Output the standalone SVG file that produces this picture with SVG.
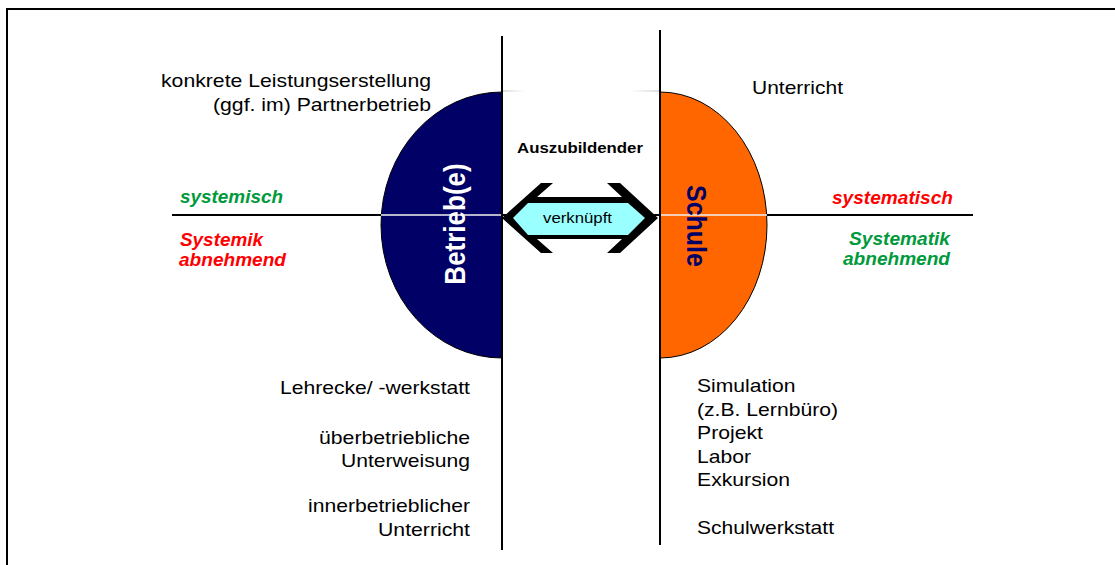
<svg xmlns="http://www.w3.org/2000/svg" width="1115" height="565" viewBox="0 0 1115 565">
<style>
text{font-family:"Liberation Sans",Arial,sans-serif;}
.t{font-size:19px;fill:#000;}
.bi{font-size:17.5px;font-weight:bold;font-style:italic;}
.g{fill:#009A3C;}
.r{fill:#FF0000;}
.line{stroke:#000;stroke-width:2;fill:none;}
</style>
<defs>
<linearGradient id="fadeR" x1="0" y1="0" x2="1" y2="0"><stop offset="0" stop-color="#bbb"/><stop offset="1" stop-color="#fff"/></linearGradient>
<linearGradient id="fadeL" x1="0" y1="0" x2="1" y2="0"><stop offset="0" stop-color="#fff"/><stop offset="1" stop-color="#bbb"/></linearGradient>
</defs>
<rect width="1115" height="565" fill="#fff"/>
<path d="M7,565 V9 H1115" class="line"/>

<g id="connectors">
<line x1="172" y1="215" x2="973" y2="215" class="line"/>
</g>

<g id="node-betrieb">
<path d="M502,92 A121,133 0 0 0 502,358 Z" fill="#000066" stroke="#000" stroke-width="1"/>
<line x1="381" y1="215" x2="502" y2="215" stroke="#f2f2f2" stroke-width="1.6"/>
<text transform="translate(465,224) scale(1.14,1) rotate(-90)" text-anchor="middle" font-size="26" font-weight="bold" fill="#fff">Betrieb(e)</text>
</g>

<g id="node-schule">
<path d="M660,92 A107,133 0 0 1 660,358 Z" fill="#FF6600" stroke="#000" stroke-width="1"/>
<line x1="660" y1="215" x2="767" y2="215" stroke="#f2f2f2" stroke-width="1.6"/>
<text transform="translate(687,226) scale(1.14,1) rotate(90)" text-anchor="middle" font-size="25" font-weight="bold" fill="#000066">Schule</text>
</g>

<g id="dividers">
<rect x="503" y="90.5" width="22" height="1" fill="url(#fadeR)"/>
<rect x="630" y="90.5" width="29" height="1" fill="url(#fadeL)"/>
<line x1="502" y1="36" x2="502" y2="550" class="line"/>
<line x1="660" y1="30" x2="660" y2="545" class="line"/>
</g>

<g id="node-verknuepft">
<polygon points="502,218 541,183 553,183 537,197 622,197 607,183 620,183 658,218 620,253 607,253 622,239 537,239 553,253 541,253" fill="#000"/>
<polygon points="513,218 528,203 628,203 645,218 628,235 528,235" fill="#99FFFF"/>
<text x="543" y="223" font-size="15.5" textLength="69" lengthAdjust="spacingAndGlyphs">verknüpft</text>
</g>

<g id="node-auszubildender">
<text x="517" y="153" font-size="15.5" font-weight="bold" textLength="126" lengthAdjust="spacingAndGlyphs">Auszubildender</text>
</g>

<g id="labels-top">
<text class="t" x="161" y="87" textLength="270" lengthAdjust="spacingAndGlyphs">konkrete Leistungserstellung</text>
<text class="t" x="213" y="111" textLength="218" lengthAdjust="spacingAndGlyphs">(ggf. im) Partnerbetrieb</text>
<text class="t" x="752" y="94" textLength="91" lengthAdjust="spacingAndGlyphs">Unterricht</text>
</g>

<g id="labels-axis">
<text class="bi g" x="180" y="203" textLength="103" lengthAdjust="spacingAndGlyphs">systemisch</text>
<text class="bi r" x="180" y="246" textLength="83" lengthAdjust="spacingAndGlyphs">Systemik</text>
<text class="bi r" x="179" y="266" textLength="107" lengthAdjust="spacingAndGlyphs">abnehmend</text>
<text class="bi r" x="832" y="204" textLength="121" lengthAdjust="spacingAndGlyphs">systematisch</text>
<text class="bi g" x="849" y="245" textLength="101" lengthAdjust="spacingAndGlyphs">Systematik</text>
<text class="bi g" x="843" y="265" textLength="107" lengthAdjust="spacingAndGlyphs">abnehmend</text>
</g>

<g id="labels-betrieb-bottom">
<text class="t" x="280" y="394" textLength="190" lengthAdjust="spacingAndGlyphs">Lehrecke/ -werkstatt</text>
<text class="t" x="319" y="444" textLength="151" lengthAdjust="spacingAndGlyphs">überbetriebliche</text>
<text class="t" x="341" y="467" textLength="129" lengthAdjust="spacingAndGlyphs">Unterweisung</text>
<text class="t" x="308" y="512" textLength="162" lengthAdjust="spacingAndGlyphs">innerbetrieblicher</text>
<text class="t" x="378" y="536" textLength="92" lengthAdjust="spacingAndGlyphs">Unterricht</text>
</g>

<g id="labels-schule-bottom">
<text class="t" x="697" y="392" textLength="98.5" lengthAdjust="spacingAndGlyphs">Simulation</text>
<text class="t" x="697" y="416" textLength="141" lengthAdjust="spacingAndGlyphs">(z.B. Lernbüro)</text>
<text class="t" x="697" y="439" textLength="66" lengthAdjust="spacingAndGlyphs">Projekt</text>
<text class="t" x="697" y="463" textLength="54" lengthAdjust="spacingAndGlyphs">Labor</text>
<text class="t" x="697" y="486" textLength="93" lengthAdjust="spacingAndGlyphs">Exkursion</text>
<text class="t" x="697" y="534" textLength="137" lengthAdjust="spacingAndGlyphs">Schulwerkstatt</text>
</g>
</svg>
